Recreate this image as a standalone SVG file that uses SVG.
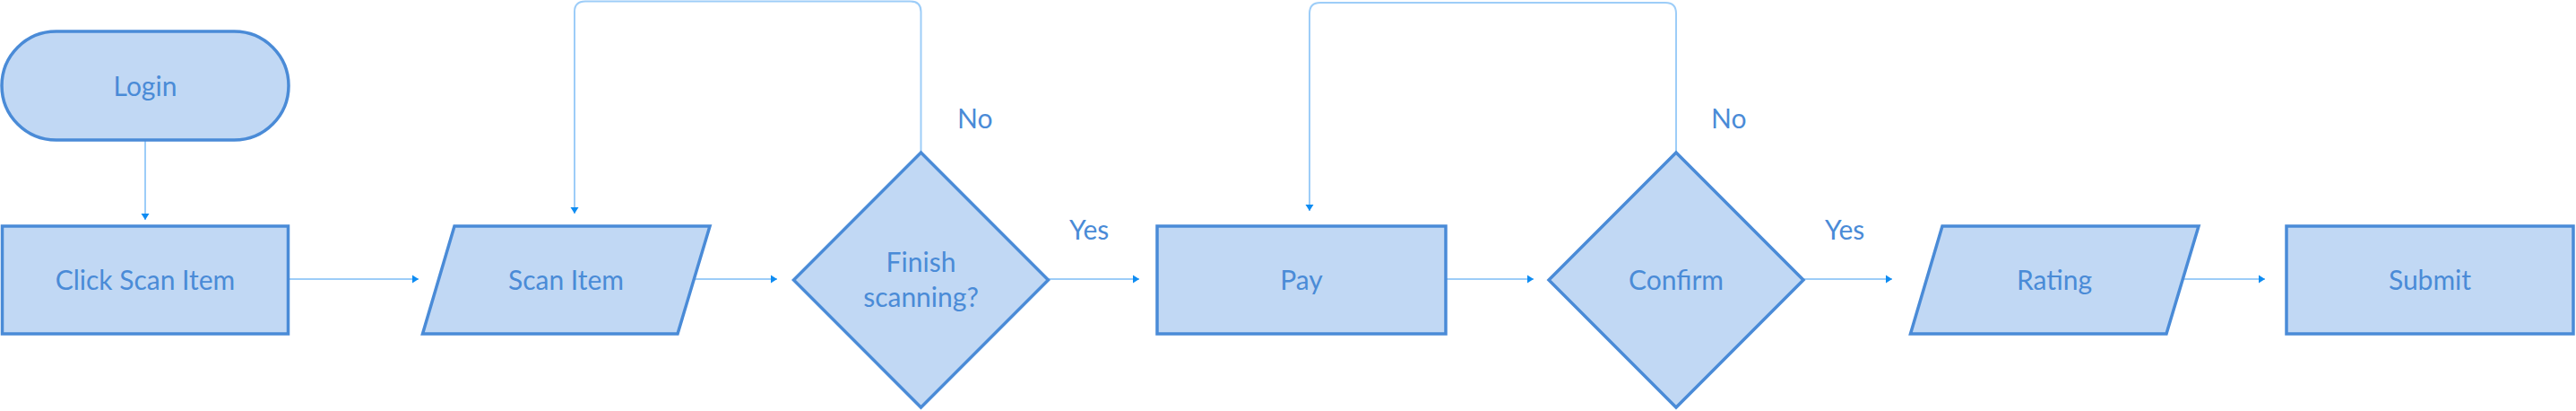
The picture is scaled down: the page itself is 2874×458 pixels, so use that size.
<svg xmlns="http://www.w3.org/2000/svg" width="2874" height="458" viewBox="0 0 2874 458">
<style>
.n{fill:#c1d8f4;stroke:#4a8bd7;stroke-width:3.5;}
.t{font-family:Lato,"Liberation Sans",sans-serif;font-size:30px;fill:#4a8bd7;text-anchor:middle;}
.l{font-family:Lato,"Liberation Sans",sans-serif;font-size:30px;fill:#4a8bd7;}
.c{fill:none;stroke:#9dcdf8;stroke-width:2;marker-end:url(#ah);}
</style>
<defs>
<marker id="ah" markerUnits="userSpaceOnUse" markerWidth="10" markerHeight="12" viewBox="0 0 10 12" refX="8" refY="6" orient="auto">
<path d="M1,1.5 L8,6 L1,10.5 Z" fill="#0e8cf2"/>
</marker>
</defs>
<rect width="2874" height="458" fill="#ffffff"/>
<g id="connectors">
<path class="c" d="M162,157 V245"/>
<path class="c" d="M322,311 H467"/>
<path class="c" d="M775,311 H867"/>
<path class="c" d="M1169,311 H1271"/>
<path class="c" d="M1027.5,170 V13 Q1027.5,1.5 1015.5,1.5 H653 Q641,1.5 641,13 V238"/>
<path class="c" d="M1613,311 H1711"/>
<path class="c" d="M2012,311 H2111"/>
<path class="c" d="M1870,170 V15 Q1870,3 1858,3 H1473 Q1461,3 1461,15 V235"/>
<path class="c" d="M2437,311 H2527"/>
</g>
<g id="labels">
<text class="l" x="1068" y="143">No</text>
<text class="l" x="1909" y="143">No</text>
<text class="l" x="1193" y="267">Yes</text>
<text class="l" x="2036" y="267">Yes</text>
</g>
<g id="login"><rect class="n" x="2" y="35" width="320" height="121" rx="60.5"/><text class="t" x="162" y="107">Login</text></g>
<g id="click-scan-item"><rect class="n" x="2.5" y="252" width="319" height="120"/><text class="t" x="162" y="323">Click Scan Item</text></g>
<g id="scan-item"><polygon class="n" points="507,252 792,252 756,372 471.5,372"/><text class="t" x="631.5" y="323">Scan Item</text></g>
<g id="finish-scanning"><polygon class="n" points="885.5,312 1027.5,170 1169.5,312 1027.5,454"/><text class="t" x="1027.5" y="303">Finish</text><text class="t" x="1027.5" y="342">scanning?</text></g>
<g id="pay"><rect class="n" x="1291" y="252" width="322" height="120"/><text class="t" x="1452" y="323">Pay</text></g>
<g id="confirm"><polygon class="n" points="1728,312 1870,170 2012,312 1870,454"/><text class="t" x="1870" y="323">Confirm</text></g>
<g id="rating"><polygon class="n" points="2167,252 2453,252 2417,372 2131.5,372"/><text class="t" x="2292" y="323">Rating</text></g>
<g id="submit"><rect class="n" x="2551" y="252" width="320" height="120"/><text class="t" x="2711" y="323">Submit</text></g>
</svg>
